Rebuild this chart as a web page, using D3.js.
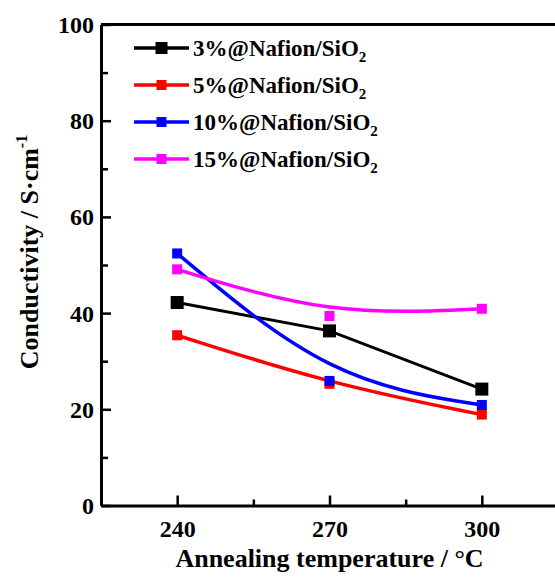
<!DOCTYPE html>
<html><head><meta charset="utf-8">
<script src="https://cdn.jsdelivr.net/npm/d3@7/dist/d3.min.js"></script>
<style>
html,body{margin:0;padding:0;background:#fff;}
svg{display:block;}
text{font-family:"Liberation Serif","Times New Roman",serif;font-weight:bold;fill:#000;}
</style></head>
<body><svg id="c" width="555" height="577"></svg>
<script>
const temperatures = [240, 270, 300];
const seriesNames = ["3%@Nafion/SiO", "5%@Nafion/SiO", "10%@Nafion/SiO", "15%@Nafion/SiO"];
const seriesColors = ["#000000", "#ff0000", "#0000ff", "#ff00ff"];
const s3 = [42.2, 36.3, 24.2];
const s5 = [35.4, 25.3, 18.9];
const s10 = [52.4, 25.9, 20.9];
const s15 = [49.1, 39.4, 40.9];
const yMajorTicks = [0, 20, 40, 60, 80, 100];
const yMinorTicks = [10, 30, 50, 70, 90];
const xMajorTicks = [240, 270, 300];
const xMinorTicks = [255, 285];

const series = [
  {name: seriesNames[0], color: seriesColors[0], values: s3, smooth: false, size: 13, lw: 3},
  {name: seriesNames[1], color: seriesColors[1], values: s5, smooth: true, size: 10, lw: 3.5},
  {name: seriesNames[2], color: seriesColors[2], values: s10, smooth: true, size: 10, lw: 3.5},
  {name: seriesNames[3], color: seriesColors[3], values: s15, smooth: true, size: 10, lw: 3.5}
];

const svg = d3.select("#c");
const x = d3.scaleLinear().domain([225, 315]).range([101, 558]);
const y = d3.scaleLinear().domain([0, 100]).range([505.5, 24.5]);

// frame top
svg.append("line").attr("x1", x(225)).attr("x2", x(315)).attr("y1", y(100)).attr("y2", y(100))
  .attr("stroke", "#000").attr("stroke-width", 3);

// y axis
const gy = svg.append("g").attr("transform", `translate(${x(225)},0)`);
gy.call(d3.axisLeft(y).tickValues(yMajorTicks).tickSizeInner(-10).tickSizeOuter(0).tickPadding(7).tickFormat(d3.format("d")));
const gy2 = svg.append("g").attr("transform", `translate(${x(225)},0)`);
gy2.call(d3.axisLeft(y).tickValues(yMinorTicks).tickSizeInner(-7).tickSizeOuter(0).tickFormat(""));
gy2.select(".domain").remove();

// x axis
const gx = svg.append("g").attr("transform", `translate(0,${y(0)})`);
gx.call(d3.axisBottom(x).tickValues(xMajorTicks).tickSizeInner(-10).tickSizeOuter(0).tickPadding(14).tickFormat(d3.format("d")));
const gx2 = svg.append("g").attr("transform", `translate(0,${y(0)})`);
gx2.call(d3.axisBottom(x).tickValues(xMinorTicks).tickSizeInner(-6).tickSizeOuter(0).tickFormat(""));
gx2.select(".domain").remove();

svg.selectAll(".domain").attr("stroke-width", 3).attr("stroke", "#000");
svg.selectAll(".tick line").attr("stroke-width", 2.5).attr("stroke", "#000");
svg.selectAll(".tick text").style("font-family", '"Liberation Serif","Times New Roman",serif')
  .style("font-weight", "bold").attr("font-size", 24).attr("fill", "#000");
gy.selectAll(".tick text").attr("dy", "0.33em");

// lines and markers
series.forEach(s => {
  const pts = temperatures.map((t, i) => [t, s.values[i]]);
  const line = d3.line().x(d => x(d[0])).y(d => y(d[1]))
    .curve(s.smooth ? d3.curveBasis : d3.curveLinear);
  svg.append("path").datum(pts).attr("d", line).attr("fill", "none")
    .attr("stroke", s.color).attr("stroke-width", s.lw);
});
series.forEach(s => {
  const pts = temperatures.map((t, i) => [t, s.values[i]]);
  svg.selectAll(null).data(pts).enter().append("rect")
    .attr("x", d => x(d[0]) - s.size / 2).attr("y", d => y(d[1]) - s.size / 2)
    .attr("width", s.size).attr("height", s.size).attr("fill", s.color);
});

// legend
const legY = [48, 85, 122, 159];
series.forEach((s, i) => {
  const g = svg.append("g").attr("transform", `translate(0,${legY[i]})`);
  g.append("line").attr("x1", 134).attr("x2", 189).attr("y1", 0).attr("y2", 0)
    .attr("stroke", s.color).attr("stroke-width", 3.5);
  const sz = i === 0 ? 12 : 10;
  g.append("rect").attr("x", 161.5 - sz / 2).attr("y", -sz / 2).attr("width", sz).attr("height", sz).attr("fill", s.color);
  const t = g.append("text").attr("x", 193).attr("y", 8).attr("font-size", 23);
  t.append("tspan").text(s.name);
  t.append("tspan").attr("font-size", 15).attr("dy", 6).text("2");
});

// axis titles
svg.append("text").attr("x", x(270)).attr("y", 567).attr("text-anchor", "middle")
  .attr("font-size", 26).text("Annealing temperature / °C");
const yt = svg.append("text").attr("transform", `translate(38,252) rotate(-90)`)
  .attr("text-anchor", "middle").attr("font-size", 26);
yt.append("tspan").text("Conductivity / S·cm");
yt.append("tspan").attr("font-size", 16).attr("dy", -11).text("-1");
</script></body></html>
